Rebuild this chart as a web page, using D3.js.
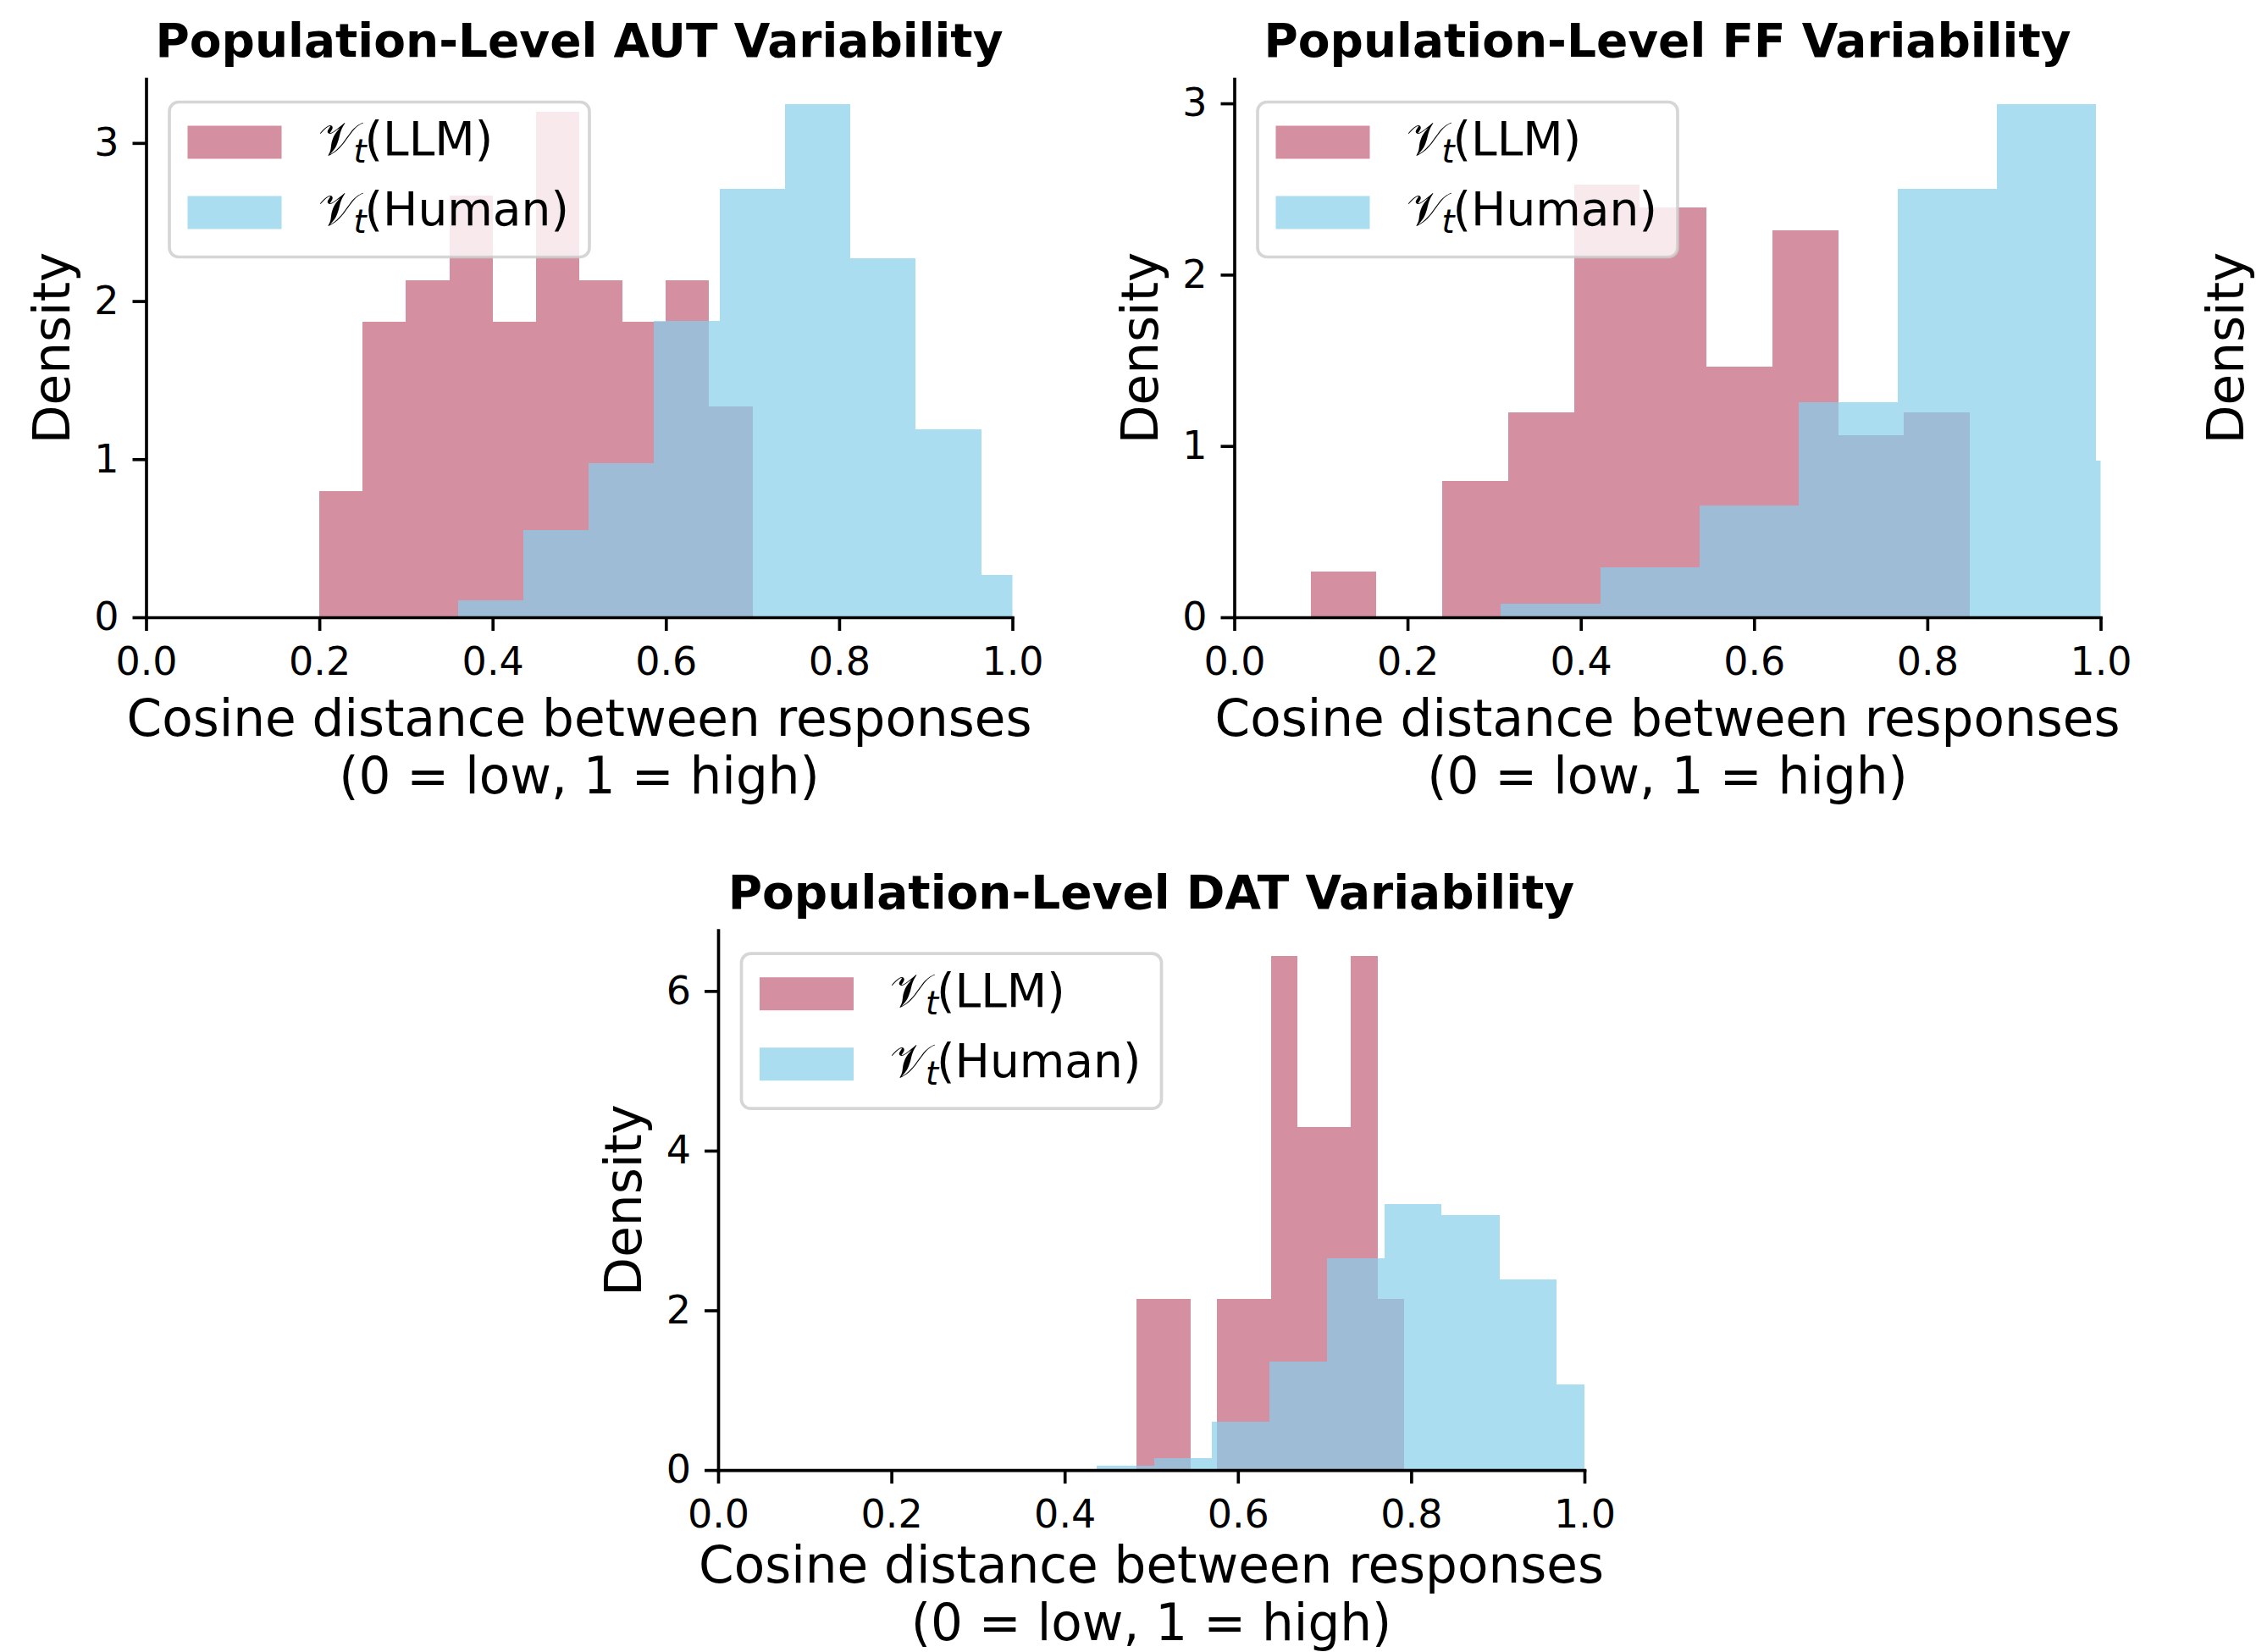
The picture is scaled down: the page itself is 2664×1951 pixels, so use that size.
<!DOCTYPE html>
<html>
<head>
<meta charset="utf-8">
<title>Population-Level Variability</title>
<script src="https://cdn.jsdelivr.net/npm/d3@7"></script>
<style>
  body { margin: 0; background: #fff; }
  svg { display: block; }
  text { font-family: "DejaVu Sans", sans-serif; fill: #000; }
  .tick text { font-size: 46px; }
  .axis-label { font-size: 59.6px; }
  .title { font-size: 55px; font-weight: bold; }
  .legend text { font-size: 55px; }
</style>
</head>
<body>
<div id="chart"></div>
<script>
// histogram bins (edges + density per bin)
const xTicks = [0, 0.2, 0.4, 0.6, 0.8, 1.0];
const seriesNames = ['LLM', 'Human'];
const seriesColors = ['#c25f78', '#87ceeb'];

const autLlmEdges = [0.20, 0.25, 0.30, 0.35, 0.40, 0.45, 0.50, 0.55, 0.60, 0.65, 0.70];
const autLlmDensity = [0.800, 1.867, 2.133, 2.667, 1.867, 3.200, 2.133, 1.867, 2.133, 1.333];
const autHumanEdges = [0.360, 0.4355, 0.511, 0.5865, 0.662, 0.7375, 0.813, 0.8885, 0.964, 1.0395];
const autHumanDensity = [0.107, 0.553, 0.974, 1.877, 2.709, 3.244, 2.270, 1.190, 0.267];
const autYTicks = [0, 1, 2, 3];

const ffLlmEdges = [0.088, 0.164, 0.240, 0.316, 0.392, 0.468, 0.545, 0.621, 0.697, 0.773, 0.849];
const ffLlmDensity = [0.266, 0, 0.798, 1.197, 2.527, 2.394, 1.463, 2.261, 1.064, 1.197];
const ffHumanEdges = [0.1935, 0.3079, 0.4223, 0.5367, 0.6511, 0.7655, 0.8799, 0.9943, 1.1087];
const ffHumanDensity = [0.006, 0.079, 0.294, 0.654, 1.255, 2.500, 2.994, 0.916];
const ffYTicks = [0, 1, 2, 3];

const datLlmEdges = [0.483, 0.514, 0.545, 0.576, 0.607, 0.638, 0.669, 0.700, 0.730, 0.761, 0.792];
const datLlmDensity = [2.146, 2.146, 0, 2.146, 2.146, 6.438, 4.292, 4.292, 6.438, 2.146];
const datHumanEdges = [0.437, 0.503, 0.570, 0.636, 0.703, 0.769, 0.835, 0.902, 0.968, 1.035];
const datHumanDensity = [0.050, 0.148, 0.609, 1.361, 2.653, 3.332, 3.193, 2.386, 1.075];
const datYTicks = [0, 2, 4, 6];

const W = 2664, H = 1951;
const plotW = 1023;
const lw = 3.67;

const panels = [
  {id: 'aut', title: 'Population-Level AUT Variability', left: 172.5, top: 93, height: 636,
   yTicks: autYTicks, series: [[autLlmEdges, autLlmDensity], [autHumanEdges, autHumanDensity]]},
  {id: 'ff', title: 'Population-Level FF Variability', left: 1457.5, top: 93, height: 636,
   yTicks: ffYTicks, series: [[ffLlmEdges, ffLlmDensity], [ffHumanEdges, ffHumanDensity]]},
  {id: 'dat', title: 'Population-Level DAT Variability', left: 848, top: 1098.7, height: 637.4,
   yTicks: datYTicks, series: [[datLlmEdges, datLlmDensity], [datHumanEdges, datHumanDensity]]}
];

const svg = d3.select('#chart').append('svg')
  .attr('width', W).attr('height', H)
  .style('background', '#fff');

panels.forEach(drawPanel);

// y label of the third top-row panel, which sits mostly off the canvas
svg.append('text')
  .attr('class', 'axis-label')
  .attr('transform', `translate(${2740 - 91}, ${93 + 318}) rotate(-90)`)
  .attr('text-anchor', 'middle')
  .text('Density');

function drawPanel(p) {
  const g = svg.append('g').attr('transform', `translate(${p.left},${p.top})`);

  const x = d3.scaleLinear().domain([0, 1]).range([0, plotW]);
  const yMax = d3.max(p.series, s => d3.max(s[1])) * 1.05;
  const y = d3.scaleLinear().domain([0, yMax]).range([p.height, 0]);

  g.append('clipPath').attr('id', 'clip-' + p.id)
    .append('rect').attr('width', plotW).attr('height', p.height);

  p.series.forEach(([edges, dens], k) => {
    g.append('g')
      .attr('clip-path', `url(#clip-${p.id})`)
      .selectAll('rect')
      .data(dens.map((d, i) => ({x0: edges[i], x1: edges[i + 1], d: d})))
      .join('rect')
      .attr('x', d => x(d.x0))
      .attr('width', d => x(d.x1) - x(d.x0))
      .attr('y', d => y(d.d))
      .attr('height', d => y(0) - y(d.d))
      .attr('fill', seriesColors[k])
      .attr('fill-opacity', 0.7)
      .attr('shape-rendering', 'crispEdges');
  });

  const xAxis = g.append('g')
    .attr('transform', `translate(0,${p.height})`)
    .call(d3.axisBottom(x).tickValues(xTicks).tickFormat(d3.format('.1f'))
      .tickSize(16).tickSizeOuter(0).tickPadding(19));
  const yAxis = g.append('g')
    .call(d3.axisLeft(y).tickValues(p.yTicks).tickFormat(d3.format('d'))
      .tickSize(16).tickSizeOuter(0).tickPadding(16));

  [xAxis, yAxis].forEach(a => {
    a.attr('font-family', null).attr('font-size', null);
    a.select('.domain').attr('stroke-width', lw).attr('stroke-linecap', 'square');
    a.selectAll('.tick line').attr('stroke-width', lw);
  });

  // title
  g.append('text').attr('class', 'title')
    .attr('x', plotW / 2).attr('y', -26)
    .attr('text-anchor', 'middle')
    .text(p.title);

  // x label, two lines; nudged up just enough to stay inside the canvas
  const shift = Math.max(0, p.top + p.height + 207.5 + 14 - H);
  const xl = g.append('text').attr('class', 'axis-label').attr('text-anchor', 'middle');
  xl.append('tspan').attr('x', plotW / 2).attr('y', p.height + 140 - shift)
    .text('Cosine distance between responses');
  xl.append('tspan').attr('x', plotW / 2).attr('y', p.height + 207.5 - shift)
    .text('(0 = low, 1 = high)');

  g.append('text').attr('class', 'axis-label')
    .attr('transform', `translate(-91, ${p.height / 2}) rotate(-90)`)
    .attr('text-anchor', 'middle')
    .text('Density');

  // legend
  const lg = g.append('g').attr('class', 'legend')
    .attr('transform', 'translate(27.5,27.5)');
  lg.append('rect')
    .attr('width', 496).attr('height', 183).attr('rx', 11)
    .attr('fill', '#fff').attr('fill-opacity', 0.8)
    .attr('stroke', '#cccccc').attr('stroke-opacity', 0.8).attr('stroke-width', lw);

  seriesNames.forEach((name, k) => {
    const row = lg.append('g').attr('transform', `translate(0,${k * 83})`);
    row.append('rect')
      .attr('x', 21.5).attr('y', 28).attr('width', 111).attr('height', 39)
      .attr('fill', seriesColors[k]).attr('fill-opacity', 0.7);
    const t = row.append('text').attr('x', 175.5).attr('y', 62.5);
    t.append('tspan').attr('font-family', '"DejaVu Serif", "DejaVu Sans", serif').text('𝒱');
    t.append('tspan').attr('font-style', 'italic').attr('font-size', 38.5)
      .attr('dx', -4).attr('dy', 9).text('t');
    t.append('tspan').attr('dx', -2).attr('dy', -9).text(`(${name})`);
  });
}
</script>
</body>
</html>
